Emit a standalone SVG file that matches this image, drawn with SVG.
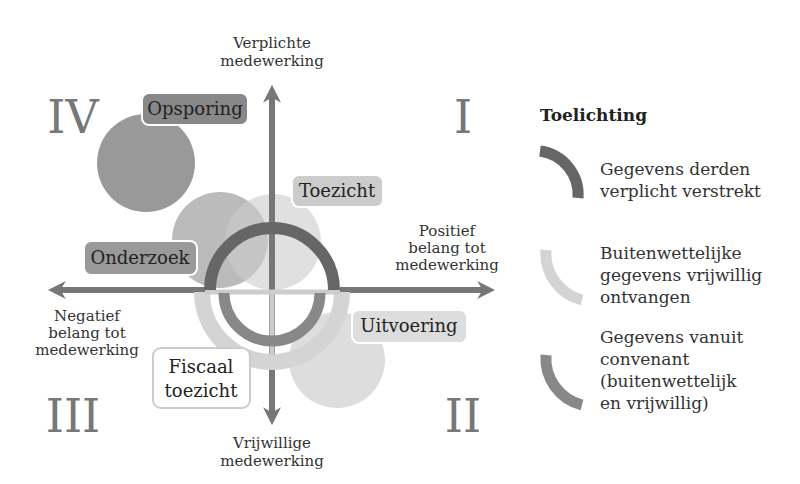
<svg xmlns="http://www.w3.org/2000/svg" width="800" height="484" viewBox="0 0 800 484">
<style>
text{font-family:"DejaVu Serif","Liberation Serif",serif;fill:#333}
.ax{font-size:15px;text-anchor:middle}
.rn{font-size:46px;fill:#777;text-anchor:middle}
.lb{font-size:18px;text-anchor:middle;fill:#222}
.lg{font-size:17px}
.axl{stroke:#777;stroke-width:6;fill:none}
</style>
<defs>
<marker id="ah" viewBox="0 0 10 10" refX="6" refY="5" markerWidth="3" markerHeight="3" orient="auto-start-reverse"><path d="M0,0 L10,5 L0,10 L3,5Z" fill="#777"/></marker>
</defs>
<rect width="800" height="484" fill="#fff"/>
<g id="circles">
<circle id="c-opsporing" cx="146" cy="163" r="49" fill="#999"/>
<circle id="c-onderzoek" cx="220" cy="240" r="48" fill="#aaa" fill-opacity="0.8"/>
<circle id="c-toezicht" cx="273" cy="242" r="48" fill="#ccc" fill-opacity="0.6"/>
<circle id="c-uitvoering" cx="337" cy="360" r="48" fill="#ddd"/>
</g>
<g id="connectors">
<line class="axl" x1="272" y1="360" x2="272" y2="92" marker-end="url(#ah)"/>
<line class="axl" x1="272" y1="360" x2="272" y2="418" marker-end="url(#ah)"/>
<line class="axl" x1="205" y1="290" x2="55" y2="290" marker-end="url(#ah)"/>
<line class="axl" x1="340" y1="290" x2="488" y2="290" marker-end="url(#ah)"/>
</g>
<g id="ring">
<path d="M202,292 A70,70 0 0 0 342,292" fill="none" stroke="#d4d4d4" stroke-width="16"/>
<line x1="205" y1="292" x2="340" y2="292" stroke="#ccc" stroke-width="5"/>
<line x1="272" y1="292" x2="272" y2="356" stroke="#ccc" stroke-width="5"/>
<path d="M224,293 A48,48 0 0 0 320,293" fill="none" stroke="#888" stroke-width="11"/>
<path d="M210,290 A62,62 0 0 1 334,290" fill="none" stroke="#666" stroke-width="12"/>
</g>
<g id="opsporing"><rect x="142" y="93" width="106" height="32" rx="7" fill="#888" stroke="#fff" stroke-width="2"/><text class="lb" x="195" y="115">Opsporing</text></g>
<g id="toezicht"><rect x="292" y="175" width="91" height="32" rx="7" fill="#ccc" stroke="#fff" stroke-width="2"/><text class="lb" x="337" y="197">Toezicht</text></g>
<g id="onderzoek"><rect x="84" y="241" width="113" height="34" rx="7" fill="#999" stroke="#fff" stroke-width="2"/><text class="lb" x="140" y="264">Onderzoek</text></g>
<g id="uitvoering"><rect x="352" y="310" width="115" height="33" rx="7" fill="#ddd" stroke="#fff" stroke-width="2"/><text class="lb" x="409" y="332">Uitvoering</text></g>
<g id="fiscaal"><rect x="153" y="348" width="97" height="60" rx="8" fill="#fff" stroke="#ccc" stroke-width="2"/><text class="lb" x="201" y="373">Fiscaal</text><text class="lb" x="201" y="397">toezicht</text></g>
<g id="axis-labels">
<text class="ax" x="272" y="48">Verplichte</text><text class="ax" x="272" y="66">medewerking</text>
<text class="ax" x="447" y="236">Positief</text><text class="ax" x="447" y="253">belang tot</text><text class="ax" x="447" y="270">medewerking</text>
<text class="ax" x="87" y="321">Negatief</text><text class="ax" x="87" y="338">belang tot</text><text class="ax" x="87" y="355">medewerking</text>
<text class="ax" x="272" y="448">Vrijwillige</text><text class="ax" x="272" y="466">medewerking</text>
</g>
<g id="numerals">
<text class="rn" x="73" y="133">IV</text><text class="rn" x="463" y="133">I</text>
<text class="rn" x="73" y="432">III</text><text class="rn" x="463" y="432">II</text>
</g>
<g id="legend">
<text x="540" y="121" style="font-size:17px;font-weight:bold;fill:#222">Toelichting</text>
<path d="M540,151 A44,44 0 0 1 578,198" fill="none" stroke="#666" stroke-width="11"/>
<path d="M546,250 A48,48 0 0 0 582,300" fill="none" stroke="#d4d4d4" stroke-width="11"/>
<path d="M546,355 A48,48 0 0 0 582,405" fill="none" stroke="#888" stroke-width="11"/>
<text class="lg" x="600" y="175">Gegevens derden</text><text class="lg" x="600" y="197">verplicht verstrekt</text>
<text class="lg" x="600" y="259">Buitenwettelijke</text><text class="lg" x="600" y="281">gegevens vrijwillig</text><text class="lg" x="600" y="303">ontvangen</text>
<text class="lg" x="600" y="343">Gegevens vanuit</text><text class="lg" x="600" y="365">convenant</text><text class="lg" x="600" y="387">(buitenwettelijk</text><text class="lg" x="600" y="409">en vrijwillig)</text>
</g>
</svg>
